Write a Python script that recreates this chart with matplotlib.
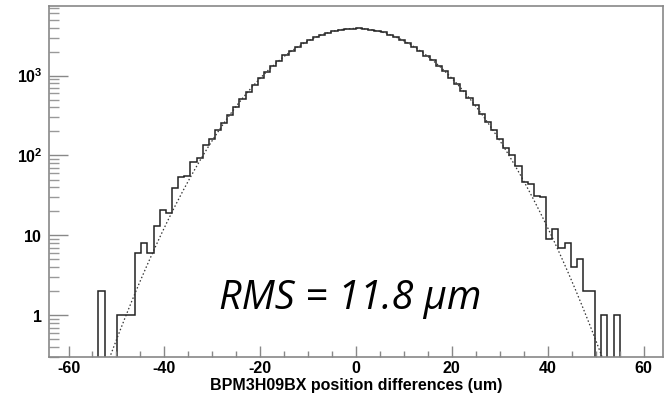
import numpy as np
import matplotlib.pyplot as plt

plt.rcParams['font.family'] = ['Liberation Sans', 'DejaVu Sans']
plt.rcParams['mathtext.fontset'] = 'custom'
plt.rcParams['mathtext.rm'] = 'Liberation Sans'
plt.rcParams['mathtext.bf'] = 'Liberation Sans:bold'

# histogram: 100 bins from -64 to 64 um
x_lo = -64.0
x_hi = 64.0
counts = [0, 0, 0, 0, 0, 0, 0, 0, 2, 0,
          0, 1, 1, 1, 6, 8, 6, 13, 21, 19,
          39, 54, 55, 82, 92, 134, 160, 207, 257, 324,
          400, 505, 620, 770, 940, 1120, 1330, 1540, 1800, 2020,
          2290, 2540, 2820, 3030, 3270, 3440, 3650, 3740, 3860, 3890,
          3900, 3850, 3770, 3620, 3470, 3250, 3050, 2790, 2560, 2280,
          2050, 1780, 1560, 1320, 1140, 940, 790, 650, 520, 425,
          335, 262, 210, 160, 125, 100, 73, 46, 44, 31,
          30, 9, 12, 7, 8, 4, 5, 2, 2, 0,
          1, 0, 1, 0, 0, 0, 0, 0, 0, 0]

# gaussian fit
fit_amp = 3900.0
fit_mean = 0.0
fit_sigma = 11.8

x_ticks = [-60, -40, -20, 0, 20, 40, 60]
y_ticks = [1, 10, 100, 1000]
y_tick_labels = [r'$\mathbf{1}$', r'$\mathbf{10}$', r'$\mathbf{10^{2}}$', r'$\mathbf{10^{3}}$']

edges = np.linspace(x_lo, x_hi, len(counts) + 1)
draw = np.where(np.array(counts) > 0, counts, 1e-3)

fig = plt.figure(figsize=(6.64, 3.96), dpi=100)
ax = fig.add_axes([0.0743, 0.0985, 0.9237, 0.887])

ax.stairs(draw, edges, color='#222222', lw=1.1, baseline=None)

xf = np.linspace(x_lo, x_hi, 600)
yf = fit_amp * np.exp(-0.5 * ((xf - fit_mean) / fit_sigma) ** 2)
ax.plot(xf, yf, color='#333333', lw=0.9, linestyle=(0, (1.2, 1.8)))

ax.set_yscale('log')
ax.set_xlim(x_lo, x_hi)
ax.set_ylim(0.3, 7500)

ax.set_xticks(x_ticks)
ax.set_xticklabels([str(v) for v in x_ticks], fontweight='bold', fontsize=11.5)
ax.set_xticks(np.arange(-60, 61, 5), minor=True)
ax.set_yticks(y_ticks)
ax.set_yticklabels(y_tick_labels, fontsize=11.5)
ax.yaxis.set_minor_locator(plt.matplotlib.ticker.LogLocator(base=10, subs=np.arange(2, 10)))
ax.yaxis.set_minor_formatter(plt.NullFormatter())

ax.tick_params(axis='x', which='major', direction='in', length=8, width=1, color='#888888', pad=3)
ax.tick_params(axis='x', which='minor', direction='in', length=4, width=1, color='#888888')
ax.tick_params(axis='y', which='major', direction='in', length=14, width=1, color='#888888', pad=5)
ax.tick_params(axis='y', which='minor', direction='in', length=7, width=1, color='#999999')

for s in ax.spines.values():
    s.set_color('#888888')
    s.set_linewidth(1.2)

ax.set_xlabel('BPM3H09BX position differences (um)', fontweight='bold', fontsize=11.5, labelpad=1)

ax.text(0.49, 0.137, 'RMS = 11.8 \u03bcm', transform=ax.transAxes, fontsize=28.5,
        family=['Open Sans', 'DejaVu Sans'], style='italic', ha='center', va='baseline')

fig.savefig('out.png', dpi=100)
